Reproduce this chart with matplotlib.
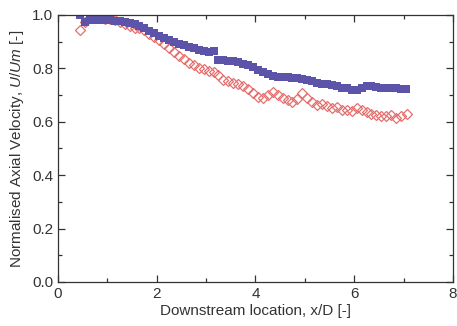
import matplotlib
matplotlib.use("Agg")
import matplotlib.pyplot as plt
from matplotlib.ticker import MultipleLocator, FormatStrFormatter

plt.rcParams['font.family'] = ['Liberation Sans', 'DejaVu Sans']
plt.rcParams['mathtext.fontset'] = 'custom'
plt.rcParams['mathtext.it'] = 'Liberation Sans:italic'
plt.rcParams['mathtext.rm'] = 'Liberation Sans'

x_pos = [0.45, 0.55, 0.65, 0.75, 0.85, 0.95, 1.05, 1.15, 1.25, 1.35,
         1.45, 1.55, 1.65, 1.75, 1.85, 1.95, 2.05, 2.15, 2.25, 2.35,
         2.45, 2.55, 2.65, 2.75, 2.85, 2.95, 3.05, 3.15, 3.25, 3.35,
         3.45, 3.55, 3.65, 3.75, 3.85, 3.95, 4.05, 4.15, 4.25, 4.35,
         4.45, 4.55, 4.65, 4.75, 4.85, 4.95, 5.05, 5.15, 5.25, 5.35,
         5.45, 5.55, 5.65, 5.75, 5.85, 5.95, 6.05, 6.15, 6.25, 6.35,
         6.45, 6.55, 6.65, 6.75, 6.85, 6.95, 7.05]

# filled squares
filled_u = [1.00, 0.975, 0.98, 0.98, 0.98, 0.98, 0.98, 0.978, 0.976, 0.974,
            0.97, 0.965, 0.958, 0.95, 0.94, 0.932, 0.922, 0.912, 0.905, 0.898,
            0.892, 0.886, 0.881, 0.876, 0.87, 0.866, 0.861, 0.866, 0.832, 0.83,
            0.828, 0.826, 0.823, 0.818, 0.813, 0.805, 0.795, 0.788, 0.778, 0.772,
            0.768, 0.768, 0.766, 0.765, 0.764, 0.762, 0.758, 0.752, 0.746, 0.742,
            0.74, 0.738, 0.735, 0.728, 0.725, 0.72, 0.72, 0.728, 0.735, 0.735,
            0.73, 0.725, 0.725, 0.725, 0.725, 0.723, 0.722]

# open diamonds
x_open = x_pos[:-1] + [7.08]
open_u = [0.945, 0.975, 0.99, 1.0, 0.99, 0.985, 0.985, 0.98, 0.975, 0.965,
          0.958, 0.95, 0.952, 0.942, 0.93, 0.918, 0.905, 0.89, 0.876, 0.862,
          0.848, 0.834, 0.822, 0.812, 0.802, 0.796, 0.79, 0.785, 0.775, 0.758,
          0.752, 0.746, 0.742, 0.735, 0.722, 0.707, 0.694, 0.69, 0.70, 0.712,
          0.70, 0.69, 0.68, 0.674, 0.685, 0.706, 0.69, 0.675, 0.662, 0.665,
          0.66, 0.65, 0.655, 0.645, 0.645, 0.64, 0.65, 0.645, 0.635, 0.63,
          0.625, 0.62, 0.62, 0.625, 0.615, 0.62, 0.63]

fig = plt.figure(figsize=(4.57, 3.26), dpi=100)
ax = fig.add_axes([0.127, 0.135, 0.864, 0.819])

ax.plot(x_open, open_u, 'D', mfc='none', mec='#e46e6e', ms=5.6, mew=0.9)
ax.plot(x_pos, filled_u, 's', color='#5b54a8', ms=5.2, mew=0)

ax.set_xlim(0, 8)
ax.set_ylim(0, 1.0)
ax.xaxis.set_major_locator(MultipleLocator(2))
ax.xaxis.set_minor_locator(MultipleLocator(1))
ax.yaxis.set_major_locator(MultipleLocator(0.2))
ax.yaxis.set_minor_locator(MultipleLocator(0.1))
ax.yaxis.set_major_formatter(FormatStrFormatter('%.1f'))
ax.tick_params(which='both', direction='in', top=True, right=True,
               labelsize=11, colors='#333333', width=0.9)
ax.tick_params(which='major', length=5)
ax.tick_params(which='minor', length=3)
for s in ax.spines.values():
    s.set_color('#333333')
    s.set_linewidth(0.9)

ax.set_xlabel('Downstream location, x/D [-]', fontsize=11, color='#333333', labelpad=2)
ax.set_ylabel('Normalised Axial Velocity, $\\mathit{U/Um}$ [-]', fontsize=11,
              color='#333333', labelpad=4)

fig.savefig('out.png', dpi=100)
